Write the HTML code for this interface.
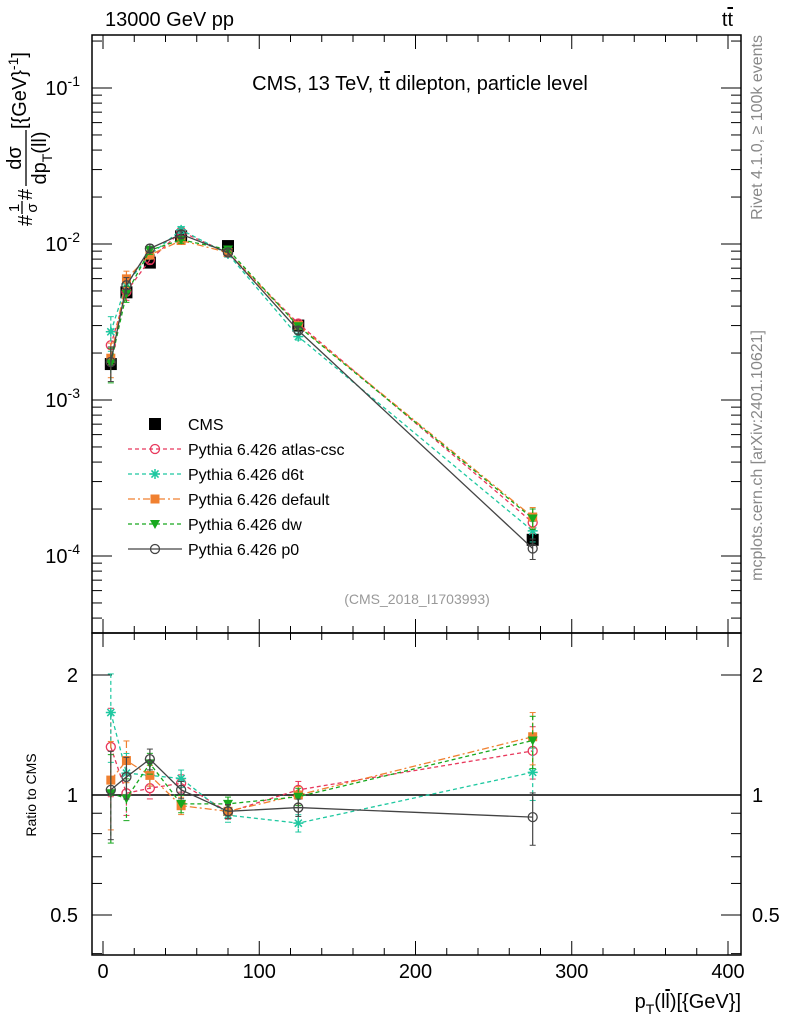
<!DOCTYPE html>
<html><head><meta charset="utf-8"><style>
body{margin:0;background:#fff}
svg{font-family:"Liberation Sans",sans-serif}
</style></head><body>
<svg id="s" width="786" height="1024" xmlns="http://www.w3.org/2000/svg"></svg>
<script>
const bins=[5,15,30,50,80,125,275];
const cmsVals=[1.7e-3,4.9e-3,7.6e-3,1.12e-2,9.7e-3,3.0e-3,1.27e-4];
const cmsRelErr=[0.08,0.05,0.04,0.04,0.04,0.05,0.08];
const ratioAtlas=[1.32,1.01,1.04,1.07,0.906,1.03,1.29];
const ratioD6t=[1.61,1.135,1.12,1.1,0.89,0.85,1.14];
const ratioDefault=[1.09,1.22,1.12,0.94,0.91,1.0,1.4];
const ratioDw=[1.01,0.98,1.2,0.95,0.95,0.99,1.37];
const ratioP0=[1.03,1.11,1.23,1.03,0.91,0.93,0.88];
const mcRelErr=[0.25,0.12,0.06,0.05,0.04,0.05,0.15];
const xTicks=[0,100,200,300,400];
const yTicksMain=[-1,-2,-3,-4];
const yTicksRatio=[2,1,0.5];

const NS="http://www.w3.org/2000/svg";
const svg=document.getElementById('s');
function el(t,a,p){const e=document.createElementNS(NS,t);for(const k in a)e.setAttribute(k,a[k]);(p||svg).appendChild(e);return e;}
const L=92,R=741,T=35,M=633,B=955;
const X=v=>103+v*(728-103)/400;
const Ym=v=>244-156*(Math.log10(v)+2);
const Yr=v=>795-120*Math.log2(v);

let f=el('rect',{x:L,y:T,width:R-L,height:M-T,fill:'none',stroke:'#000','stroke-width':1.5});

f=el('rect',{x:L,y:M,width:R-L,height:B-M,fill:'none',stroke:'#000','stroke-width':1.5});


const gx=el('g',{stroke:'#000','stroke-width':1});

for(let v=-20;v<=400;v+=20){const big=v%100===0;const l=big?14:7;const x=X(v);if(x<L||x>R)continue;
 for(const [y0,d] of [[M,-1],[T,1],[B,-1],[M,1]]){el('line',{x1:x,x2:x,y1:y0,y2:y0+d*l},gx);}}
xTicks.forEach(v=>{const t=el('text',{x:X(v),y:978,'font-size':20,'text-anchor':'middle'});t.textContent=v;
 });
const gy=el('g',{stroke:'#000','stroke-width':1});

for(let e=-5;e<=-1;e++)for(let m=1;m<10;m++){const v=m*Math.pow(10,e);const y=Ym(v);if(y<T||y>M)continue;const l=m===1?20:10;
 el('line',{x1:L,x2:L+l,y1:y,y2:y},gy);el('line',{x1:R,x2:R-l,y1:y,y2:y},gy);}
yTicksMain.forEach(e=>{const t=el('text',{x:80,y:Ym(Math.pow(10,e))+7,'font-size':20,'text-anchor':'end'});
 t.innerHTML='10<tspan dy="-9" font-size="14">'+e+'</tspan>';
 });
[0.4,0.5,0.6,0.7,0.8,0.9,1,2].forEach(v=>{const y=Yr(v);const l=(v===1||v===2||v===0.5)?20:10;
 el('line',{x1:L,x2:L+l,y1:y,y2:y},gy);el('line',{x1:R,x2:R-l,y1:y,y2:y},gy);});
yTicksRatio.forEach(v=>{for(const [x,a] of [[78,'end'],[752,'start']]){const t=el('text',{x:x,y:Yr(v)+7,'font-size':20,'text-anchor':a});t.textContent=v;
 }});
let ln=el('line',{x1:L,x2:R,y1:Yr(1),y2:Yr(1),stroke:'#000','stroke-width':1.5});


function txt(s,a,name,p){const t=el('text',a,p);t.innerHTML=s;return t;}
txt('13000 GeV pp',{x:105,y:26,'font-size':20},'energy-label');
txt('t<tspan text-decoration="overline">t</tspan>',{x:733,y:26,'font-size':20,'text-anchor':'end'},'process-label');
txt('CMS, 13 TeV, t<tspan text-decoration="overline">t</tspan> dilepton, particle level',{x:420,y:90,'font-size':20,'text-anchor':'middle'},'plot-title');
txt('(CMS_2018_I1703993)',{x:417,y:604,'font-size':14,fill:'#999','text-anchor':'middle'},'analysis-id');
txt('Rivet 4.1.0, ≥ 100k events',{x:0,y:0,'font-size':16,fill:'#888','text-anchor':'end',transform:'translate(762,35) rotate(-90)'},'rivet-label');
txt('mcplots.cern.ch [arXiv:2401.10621]',{x:0,y:0,'font-size':16,fill:'#888','text-anchor':'end',transform:'translate(762,330) rotate(-90)'},'mcplots-label');
// y axis title built as rotated fraction
const yt=el('g',{transform:'translate(0,226) rotate(-90)'});

txt('#',{x:0,y:32,'font-size':20},'y-title-hash1',yt);
txt('1',{x:18,y:19,'font-size':15,'text-anchor':'middle'},'y-title-one',yt);
el('line',{x1:12,x2:25,y1:22,y2:22,stroke:'#000','stroke-width':1.3},yt);
txt('σ',{x:18,y:37,'font-size':15,'text-anchor':'middle'},'y-title-sigma',yt);
txt('#',{x:26,y:32,'font-size':20},'y-title-hash2',yt);
txt('dσ',{x:68,y:21,'font-size':20,'text-anchor':'middle'},'y-title-dsigma',yt);
el('line',{x1:40,x2:96,y1:26,y2:26,stroke:'#000','stroke-width':1.3},yt);
txt('dp<tspan font-size="14" dy="6">T</tspan><tspan dy="-6">(ll)</tspan>',{x:68,y:46,'font-size':20,'text-anchor':'middle'},'y-title-dpt',yt);
txt('[{GeV}<tspan font-size="14" dy="-8">-1</tspan><tspan dy="8">]</tspan>',{x:97,y:26,'font-size':20},'y-title-unit',yt);
txt('Ratio to CMS',{x:0,y:0,'font-size':14,'text-anchor':'middle',transform:'translate(36,795) rotate(-90)'},'ratio-axis-title');
txt('p<tspan font-size="14" dy="6">T</tspan><tspan dy="-6">(l<tspan text-decoration="overline">l</tspan>)[{GeV}]</tspan>',{x:741,y:1008,'font-size':20,'text-anchor':'end'},'x-axis-title');

function marker(g,type,x,y,c){
 if(type==='sq')el('rect',{x:x-6,y:y-6,width:12,height:12,fill:c},g);
 else if(type==='osq')el('rect',{x:x-4.5,y:y-4.5,width:9,height:9,fill:c},g);
 else if(type==='oc')el('circle',{cx:x,cy:y,r:4.5,fill:'none',stroke:c,'stroke-width':1.3},g);
 else if(type==='tri')el('path',{d:`M${x-5},${y-4}L${x+5},${y-4}L${x},${y+5}Z`,fill:c},g);
 else if(type==='star'){let d='';for(let i=0;i<4;i++){const a=i*Math.PI/4;d+=`M${x-5*Math.cos(a)},${y-5*Math.sin(a)}L${x+5*Math.cos(a)},${y+5*Math.sin(a)}`;}el('path',{d:d,stroke:c,'stroke-width':1.5},g);}
}
const series=[
 {name:'atlas-csc',r:ratioAtlas,c:'#e8385c',dash:'4,3',m:'oc',label:'Pythia 6.426 atlas-csc'},
 {name:'d6t',r:ratioD6t,c:'#1ec8a0',dash:'4,3',m:'star',label:'Pythia 6.426 d6t'},
 {name:'default',r:ratioDefault,c:'#f08030',dash:'7,3,2,3',m:'osq',label:'Pythia 6.426 default'},
 {name:'dw',r:ratioDw,c:'#17a81e',dash:'4,3',m:'tri',label:'Pythia 6.426 dw'},
 {name:'p0',r:ratioP0,c:'#444444',dash:'',m:'oc',label:'Pythia 6.426 p0'}];
const gc=el('g',{});
bins.forEach((b,i)=>{const v=cmsVals[i];el('line',{x1:X(b),x2:X(b),y1:Ym(v*(1+cmsRelErr[i])),y2:Ym(v*(1-cmsRelErr[i])),stroke:'#000'},gc);marker(gc,'sq',X(b),Ym(v),'#000');});
series.forEach(s=>{
 for(const panel of ['main','ratio']){
  const g=el('g',{});
  const Y=panel==='main'?(i,f)=>Ym(cmsVals[i]*s.r[i]*f):(i,f)=>Yr(s.r[i]*f);
  el('polyline',{points:bins.map((b,i)=>X(b)+','+Y(i,1)).join(' '),fill:'none',stroke:s.c,'stroke-width':1.3,'stroke-dasharray':s.dash},g);
  bins.forEach((b,i)=>{const x=X(b);const y1=Y(i,1+mcRelErr[i]),y2=Y(i,1-mcRelErr[i]);
   el('line',{x1:x,x2:x,y1:y1,y2:y2,stroke:s.c,'stroke-width':1.2,'stroke-dasharray':s.dash},g);
   el('line',{x1:x-3,x2:x+3,y1:y1,y2:y1,stroke:s.c},g);el('line',{x1:x-3,x2:x+3,y1:y2,y2:y2,stroke:s.c},g);
   marker(g,s.m,x,Y(i,1),s.c);});
 }
});
const lg=el('g',{});
let e0=el('g',{},lg);
marker(e0,'sq',155,424,'#000');const tt=el('text',{x:188,y:430,'font-size':16},e0);tt.textContent='CMS';
series.forEach((s,k)=>{const y=449+25*k;const e=el('g',{},lg);
 el('line',{x1:128,x2:182,y1:y,y2:y,stroke:s.c,'stroke-width':1.3,'stroke-dasharray':s.dash},e);marker(e,s.m,155,y,s.c);
 const t=el('text',{x:188,y:y+6,'font-size':16},e);t.textContent=s.label;});
</script>
</body></html>
